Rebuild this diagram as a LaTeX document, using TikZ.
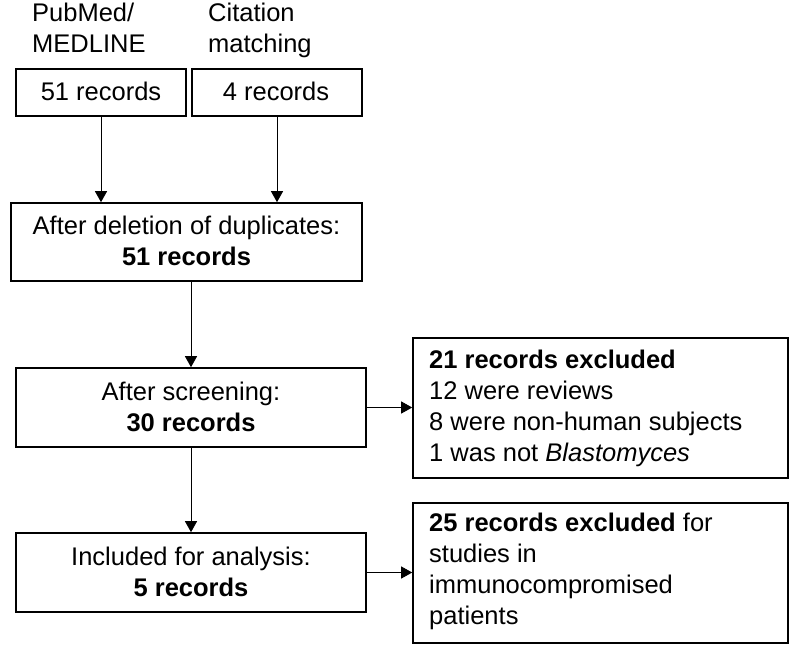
\documentclass[tikz,border=0pt]{standalone}
\usepackage{fontspec}
\setmainfont{Liberation Sans}
\usetikzlibrary{arrows.meta}
\begin{document}
\begin{tikzpicture}[x=1pt,y=-1pt,
  box/.style={draw,line width=1.6pt,inner sep=0pt},
  txt/.style={inner sep=0pt,font=\fontsize{25.5}{31}\selectfont},
  conn/.style={line width=0.9pt,-{Triangle[length=11pt,width=12pt]}}]
\useasboundingbox (0,0) rectangle (800,650);
% boxes
\node[box,minimum width=170pt,minimum height=47pt] (a) at (101,92.5) {};
\node[box,minimum width=170pt,minimum height=47pt] (b) at (277,92.5) {};
\node[box,minimum width=351pt,minimum height=78pt] (c) at (186.5,242) {};
\node[box,minimum width=350pt,minimum height=79pt] (d) at (191,407.5) {};
\node[box,minimum width=350pt,minimum height=79pt] (e) at (191,572.5) {};
\node[box,minimum width=375pt,minimum height=140pt] (f) at (600.5,408) {};
\node[box,minimum width=375pt,minimum height=140pt] (g) at (600.5,573) {};
% texts (base anchor = baseline of last line)
\node[txt,anchor=base west,align=left] (ta) at (32,53) {PubMed/\\MEDLINE};
\node[txt,anchor=base west,align=left] (tb) at (208,53) {Citation\\matching};
\node[txt,anchor=base] (la) at (101,101) {51 records};
\node[txt,anchor=base] (lb) at (276,101) {4 records};
\node[txt,anchor=base,align=center] (lc) at (186.5,265) {After deletion of duplicates:\\\textbf{51 records}};
\node[txt,anchor=base,align=center] (ld) at (191,431) {After screening:\\\textbf{30 records}};
\node[txt,anchor=base,align=center] (le) at (191,596) {Included for analysis:\\\textbf{5 records}};
\node[txt,anchor=base west,align=left] (lf) at (429,461) {\textbf{21 records excluded}\\12 were reviews\\8 were non-human subjects\\1 was not \textit{Blastomyces}};
\node[txt,anchor=base west,align=left] (lg) at (429,624) {\textbf{25 records excluded} for\\studies in\\immunocompromised\\patients};
% connectors
\draw[conn] (a.south) -- (a.south |- c.north);
\draw[conn] (b.south) -- (b.south |- c.north);
\draw[conn] (d.north |- c.south) -- (d.north);
\draw[conn] (d.south) -- (e.north);
\draw[conn] (d.east) -- (d.east -| f.west);
\draw[conn] (e.east) -- (e.east -| g.west);
\end{tikzpicture}
\end{document}
